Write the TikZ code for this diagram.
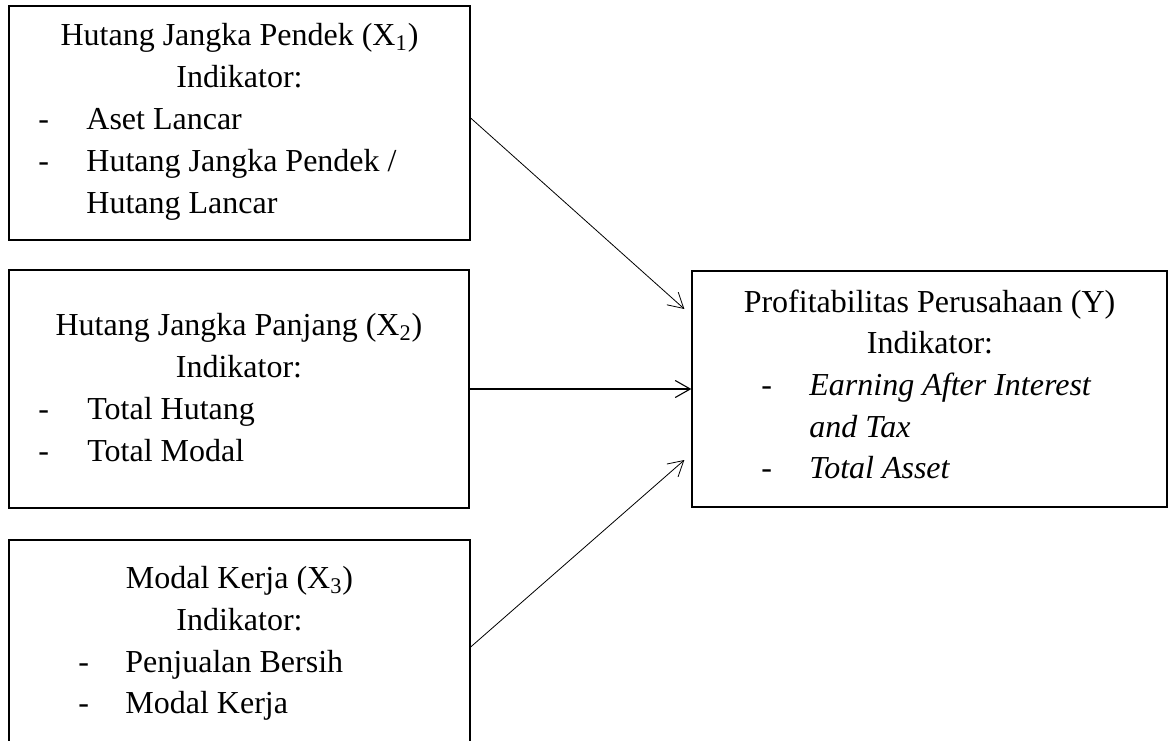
\documentclass[tikz,border=0pt]{standalone}
\usepackage{fontspec}
\setmainfont{Liberation Serif}
\usetikzlibrary{positioning, arrows.meta}

\tikzset{
  varbox/.style={draw, rectangle, line width=0.65pt, inner sep=0pt},
  txt/.style={inner sep=0pt, font=\fontsize{16}{21}\selectfont},
  link/.style={-{Straight Barb[length=7.5pt, width=8.5pt]}, line width=0.4pt},
}

\begin{document}
\begin{tikzpicture}[x=0.5pt, y=-0.5pt]
\clip (0,0) rectangle (1168,740);

% variable boxes
\node[varbox, minimum width=230.5pt, minimum height=117pt] (x1) at (239.5,123) {};
\node[varbox, minimum width=230pt, minimum height=119pt] (x2) at (239,389) {};
\node[varbox, minimum width=230.5pt, minimum height=130pt] (x3) at (239.5,670) {};
\node[varbox, minimum width=237.5pt, minimum height=118pt] (y) at (929.5,389) {};

% X1
\node[txt, anchor=base] (x1title) at (239.5,45) {Hutang Jangka Pendek (X\textsubscript{1})};
\node[txt, anchor=base] (x1ind) at (239.5,87) {Indikator:};
\node[txt, anchor=base west] (x1dasha) at (38,129) {-};
\node[txt, anchor=base west] (x1itema) at (86,129) {Aset Lancar};
\node[txt, anchor=base west] (x1dashb) at (38,171) {-};
\node[txt, anchor=base west] (x1itemb) at (86,171) {Hutang Jangka Pendek /};
\node[txt, anchor=base west] (x1itemc) at (86,213) {Hutang Lancar};

% X2
\node[txt, anchor=base] (x2title) at (239,335) {Hutang Jangka Panjang (X\textsubscript{2})};
\node[txt, anchor=base] (x2ind) at (239,377) {Indikator:};
\node[txt, anchor=base west] (x2dasha) at (38,419) {-};
\node[txt, anchor=base west] (x2itema) at (87,419) {Total Hutang};
\node[txt, anchor=base west] (x2dashb) at (38,461) {-};
\node[txt, anchor=base west] (x2itemb) at (87,461) {Total Modal};

% X3
\node[txt, anchor=base] (x3title) at (239.5,588) {Modal Kerja (X\textsubscript{3})};
\node[txt, anchor=base] (x3ind) at (239.5,630) {Indikator:};
\node[txt, anchor=base west] (x3dasha) at (78,672) {-};
\node[txt, anchor=base west] (x3itema) at (125,672) {Penjualan Bersih};
\node[txt, anchor=base west] (x3dashb) at (78,713) {-};
\node[txt, anchor=base west] (x3itemb) at (125,713) {Modal Kerja};

% Y
\node[txt, anchor=base] (ytitle) at (929.5,312) {Profitabilitas Perusahaan (Y)};
\node[txt, anchor=base] (yind) at (930,353) {Indikator:};
\node[txt, anchor=base west] (ydasha) at (761,395) {-};
\node[txt, anchor=base west] (yitema) at (809,395) {\itshape Earning After Interest};
\node[txt, anchor=base west] (yitemb) at (809,437) {\itshape and Tax};
\node[txt, anchor=base west] (ydashb) at (761,478) {-};
\node[txt, anchor=base west] (yitemc) at (809,478) {\itshape Total Asset};

% arrows
\draw[link] ([yshift=2.5pt]x1.east) -- ([xshift=-3.5pt, yshift=40pt]y.west);
\draw[link, line width=0.55pt] (x2.east) -- (x2.east -| y.west);
\draw[link] ([yshift=11.5pt]x3.east) -- ([xshift=-3.5pt, yshift=-35.5pt]y.west);
\end{tikzpicture}
\end{document}
